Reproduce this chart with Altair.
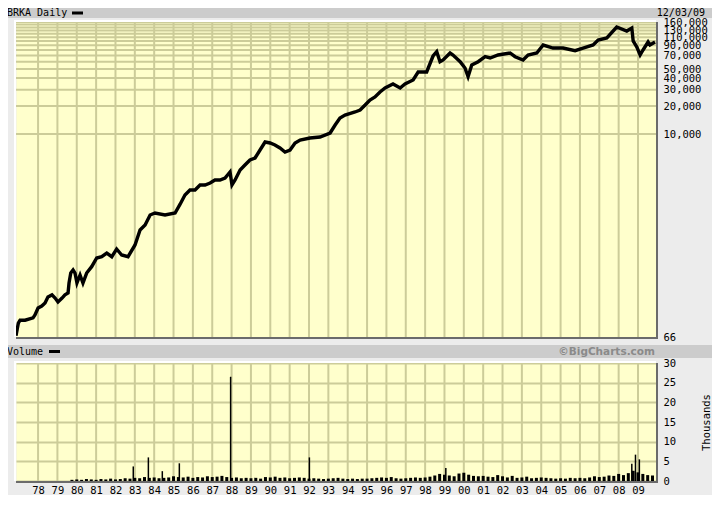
import altair as alt
import pandas as pd

# ---------------- data ----------------
price_year = [1976.86, 1976.98, 1977.07, 1977.33, 1977.74, 1977.84, 1978.00, 1978.19, 1978.36, 1978.51,
              1978.72, 1978.88, 1979.03, 1979.24, 1979.39, 1979.55, 1979.60, 1979.69, 1979.81, 1979.91,
              1980.01, 1980.17, 1980.32, 1980.51, 1980.77, 1981.03, 1981.29, 1981.55, 1981.81, 1982.06,
              1982.32, 1982.65, 1983.01, 1983.27, 1983.53, 1983.79, 1984.04, 1984.56, 1985.08, 1985.34,
              1985.59, 1985.85, 1986.11, 1986.37, 1986.63, 1986.89, 1987.14, 1987.40, 1987.66, 1987.92,
              1988.02, 1988.18, 1988.44, 1988.69, 1988.95, 1989.21, 1989.47, 1989.73, 1989.99, 1990.24,
              1990.50, 1990.76, 1991.02, 1991.28, 1991.54, 1992.05, 1992.57, 1993.09, 1993.35, 1993.60,
              1993.86, 1994.38, 1994.64, 1994.90, 1995.15, 1995.41, 1995.67, 1995.93, 1996.34, 1996.71,
              1996.96, 1997.38, 1997.64, 1998.08, 1998.41, 1998.60, 1998.77, 1998.93, 1999.29, 1999.44,
              1999.81, 2000.06, 2000.22, 2000.41, 2000.74, 2001.10, 2001.36, 2001.77, 2002.39, 2002.65,
              2003.06, 2003.32, 2003.77, 2004.10, 2004.61, 2005.13, 2005.75, 2006.16, 2006.68, 2006.94,
              2007.39, 2007.90, 2008.42, 2008.68, 2008.75, 2008.94, 2009.11, 2009.26, 2009.52, 2009.62,
              2009.88]
price_value = [68, 93, 100, 100, 106, 114, 135, 142, 153, 178,
               187, 173, 157, 173, 187, 196, 251, 321, 346, 321,
               251, 306, 251, 321, 376, 466, 481, 527, 481, 582,
               502, 481, 643, 931, 1054, 1350, 1418, 1350, 1418, 1765,
               2214, 2506, 2506, 2836, 2836, 2980, 3208, 3208, 3373, 3911,
               2836, 3208, 4111, 4651, 5262, 5530, 6743, 8222, 8019, 7630,
               7080, 6414, 6743, 8019, 8635, 9075, 9297, 10265, 12513, 14876,
               16025, 17264, 18135, 20511, 23220, 25014, 28300, 31250, 34500, 31250,
               34500, 38100, 46440, 46440, 68970, 76740, 59920, 62490, 74280, 70700,
               59920, 51270, 41330, 55210, 59920, 67800, 65650, 70720, 74300, 67800,
               62500, 70720, 74300, 90570, 84050, 84050, 78650, 84050, 90570, 102500,
               107700, 141300, 128000, 137900, 100000, 86170, 70720, 80040, 97500, 90570,
               97500]

# quarterly volume (thousands of shares), starting 1979.75
vol_k = [0.3, 0.4, 0.3, 0.5, 0.4,
         0.3, 0.5, 0.4, 0.6,
         0.4, 0.5, 0.7, 0.6,
         0.8, 0.7, 1.0, 0.8,
         0.9, 0.7, 0.8, 0.9,
         1.2, 1.0, 0.9, 1.1,
         0.8, 1.0, 0.9, 1.2,
         1.0, 1.1, 1.3, 1.0,
         0.8, 0.9, 0.7, 0.8,
         0.7, 0.8, 0.6, 1.0,
         0.9, 1.1, 0.8, 0.9,
         0.7, 0.8, 0.9, 0.8,
         0.6, 0.7, 0.6, 0.5,
         0.6, 0.7, 0.8, 0.6,
         0.5, 0.6, 0.5, 0.6,
         0.6, 0.7, 0.8, 0.9,
         0.8, 1.0, 0.7, 0.6,
         0.7, 0.8, 0.9, 0.8,
         0.9, 1.1, 1.4, 1.8,
         1.6, 1.4, 1.2, 1.9,
         2.1, 1.6, 1.3, 1.2,
         1.3, 1.1, 1.0, 1.5,
         1.2, 0.9, 1.3, 0.8,
         0.9, 1.1, 0.7, 0.8,
         0.9, 0.8, 0.7, 0.6,
         0.7, 0.6, 0.8, 0.7,
         0.8, 0.7, 0.9, 1.2,
         1.0, 1.1, 1.4, 1.3,
         1.8, 1.5, 2.0, 2.6,
         2.2, 1.8, 1.5, 1.4]
vol_year = [1979.75 + 0.25 * i for i in range(len(vol_k))]

spike_year = [1982.92, 1983.70, 1984.42, 1985.30, 1987.95, 1992.02, 1999.07, 2008.68, 2008.87, 2009.07]
spike_k = [3.7, 6.0, 2.5, 4.5, 26.5, 6.0, 3.3, 4.4, 6.7, 5.5]

year_ticks = list(range(1978, 2010))
price_grid = [10000 * i for i in range(1, 17)]
price_labels = [66, 10000, 20000, 30000, 40000, 50000, 70000, 90000, 110000, 130000, 160000]
vol_ticks = [0, 5, 10, 15, 20, 25, 30]

# ---------------- layout / style ----------------
W, H = 640, 459
P_BOT = 315
V_TOP, V_BOT = 341, 459
BG = "#ececec"
BAND = "#cccccc"
PLOT = "#ffffcc"
GRID = "#cccc99"
MONO = "DejaVu Sans Mono"

one = pd.DataFrame({"k": [0]})
price_df = pd.DataFrame({"year": price_year, "price": price_value})
vol_df = pd.DataFrame({"year": vol_year, "vol": vol_k})
spike_df = pd.DataFrame({"year": spike_year, "vol": spike_k})
grid_df = pd.DataFrame({"g": price_grid})
vgrid_df = pd.DataFrame({"year": year_ticks})

xscale = alt.Scale(domain=[1976.86, 2009.93], nice=False, zero=False)
xaxis = alt.Axis(values=year_ticks, labelExpr="substring(toString(datum.value), 2, 4)",
                 grid=False, ticks=False, domain=False,
                 labelFont=MONO, labelFontSize=10.5, labelColor="black", labelPadding=4,
                 labelFlush=False, labelOverlap=False, title=None)
pscale = alt.Scale(type="log", domain=[66, 160000], range=[P_BOT, 0], nice=False)
vscale = alt.Scale(domain=[0, 30], range=[V_BOT, V_TOP], nice=False, zero=True)


def X():
    return alt.X("year:Q", scale=xscale, axis=xaxis)


vgrid_layer = alt.Chart(vgrid_df).mark_rule(color=GRID, strokeWidth=2).encode(x=X())
grid_layer = alt.Chart(grid_df).mark_rule(color=GRID, strokeWidth=2).encode(
    y=alt.Y("g:Q", scale=pscale, axis=None))

gap = alt.Chart(one).mark_rect(color=BG).encode(
    x=alt.value(0), x2=alt.value(W + 2), y=alt.value(P_BOT), y2=alt.value(V_TOP))
vband = alt.Chart(one).mark_rect(color=BAND).encode(
    x=alt.value(-8), x2=alt.value(W + 56), y=alt.value(P_BOT + 8), y2=alt.value(P_BOT + 21))
tband = alt.Chart(one).mark_rect(color=BAND).encode(
    x=alt.value(-8), x2=alt.value(W + 56), y=alt.value(-14), y2=alt.value(-4))

t_title = alt.Chart(one).mark_text(align="left", baseline="middle", font=MONO, fontSize=10,
                                   color="black").encode(
    x=alt.value(-9), y=alt.value(-9), text=alt.value("BRKA Daily"))
t_date = alt.Chart(one).mark_text(align="right", baseline="middle", font=MONO, fontSize=10,
                                  color="black").encode(
    x=alt.value(689), y=alt.value(-9), text=alt.value("12/03/09"))
t_vol = alt.Chart(one).mark_text(align="left", baseline="middle", font=MONO, fontSize=10,
                                 color="black").encode(
    x=alt.value(-9), y=alt.value(P_BOT + 14.5), text=alt.value("Volume"))
t_bc = alt.Chart(one).mark_text(align="right", baseline="middle", font="DejaVu Sans",
                                fontSize=10.5, fontWeight="bold", color="#8a8a8a").encode(
    x=alt.value(639), y=alt.value(P_BOT + 14.5), text=alt.value("\u00a9BigCharts.com"))
leg1 = alt.Chart(one).mark_rect(color="black").encode(
    x=alt.value(56), x2=alt.value(67), y=alt.value(-10.5), y2=alt.value(-7.5))
leg2 = alt.Chart(one).mark_rect(color="black").encode(
    x=alt.value(33), x2=alt.value(44), y=alt.value(P_BOT + 13), y2=alt.value(P_BOT + 16))

vol_layer = alt.Chart(vol_df).mark_rule(color="black", strokeWidth=3).encode(
    x=X(),
    y=alt.Y("vol:Q", scale=vscale,
            axis=alt.Axis(values=vol_ticks, orient="right", grid=True, gridColor=GRID,
                          gridWidth=2, ticks=False, domain=False, labelFont=MONO,
                          labelFontSize=10.5, labelColor="black", labelPadding=7,
                          labelOverlap=False, title="Thousands", titleFont=MONO,
                          titleFontSize=10.5, titleFontWeight="normal", titleColor="black",
                          titleAngle=270, titleX=50, titleBaseline="middle")),
    y2=alt.datum(0))
spike_layer = alt.Chart(spike_df).mark_rule(color="black", strokeWidth=1.5).encode(
    x=X(), y=alt.Y("vol:Q", scale=vscale, axis=None), y2=alt.datum(0))

price_layer = alt.Chart(price_df).mark_line(color="black", strokeWidth=3.4).encode(
    x=X(),
    y=alt.Y("price:Q", scale=pscale,
            axis=alt.Axis(values=price_labels, format=",d", orient="right", grid=False,
                          ticks=False, domain=False, labelFont=MONO, labelFontSize=10.5,
                          labelColor="black", labelPadding=7, labelOverlap=False,
                          labelBaseline="middle", title=None)))

DARK = "#6b6b6b"
b1 = alt.Chart(one).mark_rule(color=DARK, strokeWidth=2).encode(
    x=alt.value(0), x2=alt.value(W + 2), y=alt.value(P_BOT + 1))
b2 = alt.Chart(one).mark_rule(color=DARK, strokeWidth=2).encode(
    x=alt.value(W + 1), y=alt.value(0), y2=alt.value(P_BOT + 2))
b3 = alt.Chart(one).mark_rule(color=DARK, strokeWidth=2).encode(
    x=alt.value(0), x2=alt.value(W + 2), y=alt.value(V_BOT + 1))
b4 = alt.Chart(one).mark_rule(color=DARK, strokeWidth=2).encode(
    x=alt.value(W + 1), y=alt.value(V_TOP), y2=alt.value(V_BOT + 2))
w1 = alt.Chart(one).mark_rule(color="white", strokeWidth=2).encode(
    x=alt.value(-1), y=alt.value(-1), y2=alt.value(P_BOT))
w2 = alt.Chart(one).mark_rule(color="white", strokeWidth=2).encode(
    x=alt.value(-2), x2=alt.value(W), y=alt.value(-1))
w3 = alt.Chart(one).mark_rule(color="white", strokeWidth=2).encode(
    x=alt.value(-1), y=alt.value(V_TOP - 1), y2=alt.value(V_BOT))
w4 = alt.Chart(one).mark_rule(color="white", strokeWidth=2).encode(
    x=alt.value(-2), x2=alt.value(W), y=alt.value(V_TOP - 1))

chart = alt.layer(
    vgrid_layer, grid_layer, gap, vband, tband, t_title, t_date, t_vol, t_bc, leg1, leg2,
    vol_layer, spike_layer, price_layer, b1, b2, b3, b4, w1, w2, w3, w4
).resolve_scale(y="independent").properties(
    width=W, height=H,
    padding={"left": 8, "top": 14, "right": 56, "bottom": 14},
    autosize=alt.AutoSizeParams(type="none"),
).configure(background=BG).configure_view(fill=PLOT, stroke="transparent")

chart.save("out.html", embed_options={"renderer": "svg", "actions": False})
